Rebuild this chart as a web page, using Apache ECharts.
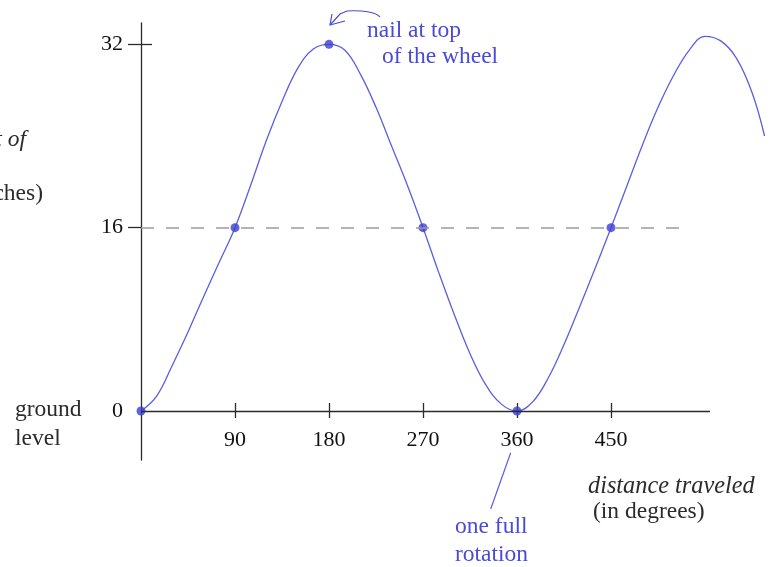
<!DOCTYPE html>
<html>
<head>
<meta charset="utf-8">
<script src="https://cdn.jsdelivr.net/npm/echarts@6/dist/echarts.min.js"></script>
<style>
  html, body { margin: 0; padding: 0; background: #ffffff; }
  #chart { width: 770px; height: 567px; }
</style>
</head>
<body>
<div id="chart"></div>
<script>
// Height of the nail above the ground as the wheel rolls (degrees -> inches)
const degrees = [0, 15, 30, 45, 60, 75, 90, 105, 120, 135, 150, 165, 180, 195, 210, 225, 240, 255, 270,
  285, 300, 315, 330, 345, 360, 375, 390, 405, 420, 435, 450, 465, 480, 495, 510, 525, 540, 555, 570, 585, 597];
const heights = [0, 1.3, 4.0, 6.9, 10.0, 13.0, 16, 19.7, 23.6, 27.0, 29.9, 31.6, 32, 31.5, 29.4, 26.5, 23.1, 19.7, 16,
  12.1, 8.4, 5.0, 2.3, 0.6, 0, 0.8, 2.9, 5.8, 9.1, 12.5, 16, 19.6, 23.2, 26.5, 29.3, 31.5, 32.7, 32.3, 30.8, 27.8, 24];

// Highlighted positions of the nail
const markedDegrees = [0, 90, 180, 270, 360, 450];
const markedHeights = [0, 16, 32, 16, 0, 16];

// Axis tick labels
const xTicks = [90, 180, 270, 360, 450];
const yTicks = [0, 16, 32];

// Axle height reference line and the drawn length of the ground axis
const axleHeight = 16;
const axleLineEnd = 516;
const groundAxisEnd = 544.8;

const SERIF = '"Liberation Serif", "Times New Roman", serif';
const INK = '#2b2b2b';
const BLUE_TEXT = '#4a4ad6';

const chart = echarts.init(document.getElementById('chart'), null, { renderer: 'canvas' });

const xRange = { min: 0, max: 600 };
const yRange = { min: -4.276, max: 33.86 };

function label(text, x, y, opts) {
  return {
    type: 'text',
    x: x,
    y: y,
    silent: true,
    style: Object.assign({
      text: text,
      fill: INK,
      font: '23.5px ' + SERIF,
      textAlign: 'left',
      textVerticalAlign: 'middle'
    }, opts || {})
  };
}

const option = {
  animation: false,
  backgroundColor: '#ffffff',
  grid: { left: 141, right: 2.3, top: 23, bottom: 107, containLabel: false },
  xAxis: [
    {
      type: 'value',
      position: 'bottom',
      min: xRange.min,
      max: xRange.max,
      // the visible ground line is drawn as a markLine so it can stop short of the curve's end
      axisLine: { show: true, onZero: true, lineStyle: { color: INK, width: 1.3, opacity: 0 } },
      axisTick: { show: true, inside: false, length: 7, customValues: xTicks, lineStyle: { color: INK, width: 1.3 } },
      axisLabel: { show: true, customValues: xTicks, margin: -31, color: '#111', fontFamily: SERIF, fontSize: 22 },
      splitLine: { show: false }
    },
    {
      type: 'value',
      position: 'bottom',
      min: xRange.min,
      max: xRange.max,
      axisLine: { show: true, onZero: true, lineStyle: { opacity: 0 } },
      axisTick: { show: true, inside: true, length: 8, customValues: xTicks, lineStyle: { color: INK, width: 1.3 } },
      axisLabel: { show: false },
      splitLine: { show: false }
    }
  ],
  yAxis: [
    {
      type: 'value',
      position: 'left',
      min: yRange.min,
      max: yRange.max,
      axisLine: { show: true, onZero: true, lineStyle: { color: INK, width: 1.3 } },
      axisTick: { show: true, inside: false, length: 13, customValues: [16, 32], lineStyle: { color: INK, width: 1.3 } },
      axisLabel: { show: true, customValues: yTicks, margin: 18, color: '#111', fontFamily: SERIF, fontSize: 22 },
      splitLine: { show: false }
    },
    {
      type: 'value',
      position: 'left',
      min: yRange.min,
      max: yRange.max,
      axisLine: { show: false, onZero: true },
      axisTick: { show: true, inside: true, length: 11, customValues: [32], lineStyle: { color: INK, width: 1.3 } },
      axisLabel: { show: false },
      splitLine: { show: false }
    }
  ],
  series: [
    {
      name: 'height',
      type: 'line',
      xAxisIndex: 0,
      yAxisIndex: 0,
      data: degrees.map((d, i) => [d, heights[i]]),
      smooth: 0.4,
      showSymbol: false,
      symbol: 'none',
      lineStyle: { color: '#5a5ee0', width: 1.3 },
      z: 3,
      markLine: {
        silent: true,
        symbol: 'none',
        label: { show: false },
        lineStyle: { color: INK, width: 1.3, type: 'solid' },
        data: [[{ coord: [0, 0] }, { coord: [groundAxisEnd, 0] }]]
      }
    },
    {
      name: 'marked',
      type: 'scatter',
      xAxisIndex: 0,
      yAxisIndex: 0,
      data: markedDegrees.map((d, i) => [d, markedHeights[i]]),
      symbol: 'circle',
      symbolSize: 9,
      itemStyle: { color: '#3a3fd0' },
      z: 4,
      markLine: {
        silent: true,
        symbol: 'none',
        label: { show: false },
        lineStyle: { color: '#9a9a9a', width: 1.5, type: [13, 12] },
        data: [[{ coord: [0, axleHeight] }, { coord: [axleLineEnd, axleHeight] }]]
      }
    }
  ],
  graphic: [
    // vertical axis title (partially off the left edge)
    label('height of', 26, 140, { textAlign: 'right', font: 'italic 23.5px ' + SERIF }),
    label('(in inches)', 43, 194, { textAlign: 'right' }),
    label('ground', 15, 410),
    label('level', 15, 439),
    // horizontal axis title
    label('distance traveled', 588, 487, { font: 'italic 24.3px ' + SERIF }),
    label('(in degrees)', 593, 512),
    // annotations
    label('nail at top', 367, 30.5, { fill: BLUE_TEXT }),
    label('of the wheel', 382, 57, { fill: BLUE_TEXT }),
    label('one full', 455, 527, { fill: BLUE_TEXT }),
    label('rotation', 455, 555, { fill: BLUE_TEXT }),
    // curled arrow pointing at the top nail
    {
      type: 'bezierCurve',
      silent: true,
      shape: { x1: 380, y1: 17, cpx1: 376, cpy1: 12, cpx2: 362, cpy2: 10, x2: 347, y2: 11 },
      style: { stroke: BLUE_TEXT, lineWidth: 1.2, fill: null }
    },
    {
      type: 'polyline',
      silent: true,
      shape: { points: [[347, 11], [340, 14], [331, 24]] },
      style: { stroke: BLUE_TEXT, lineWidth: 1.2, fill: null }
    },
    {
      type: 'polyline',
      silent: true,
      shape: { points: [[332, 14], [330, 25], [345, 21]] },
      style: { stroke: BLUE_TEXT, lineWidth: 1.2, fill: null }
    },
    // pointer to the full-rotation point
    {
      type: 'line',
      silent: true,
      shape: { x1: 510.7, y1: 452.7, x2: 490.7, y2: 509 },
      style: { stroke: '#5a5ee0', lineWidth: 1.2 }
    }
  ]
};

chart.setOption(option);
</script>
</body>
</html>
